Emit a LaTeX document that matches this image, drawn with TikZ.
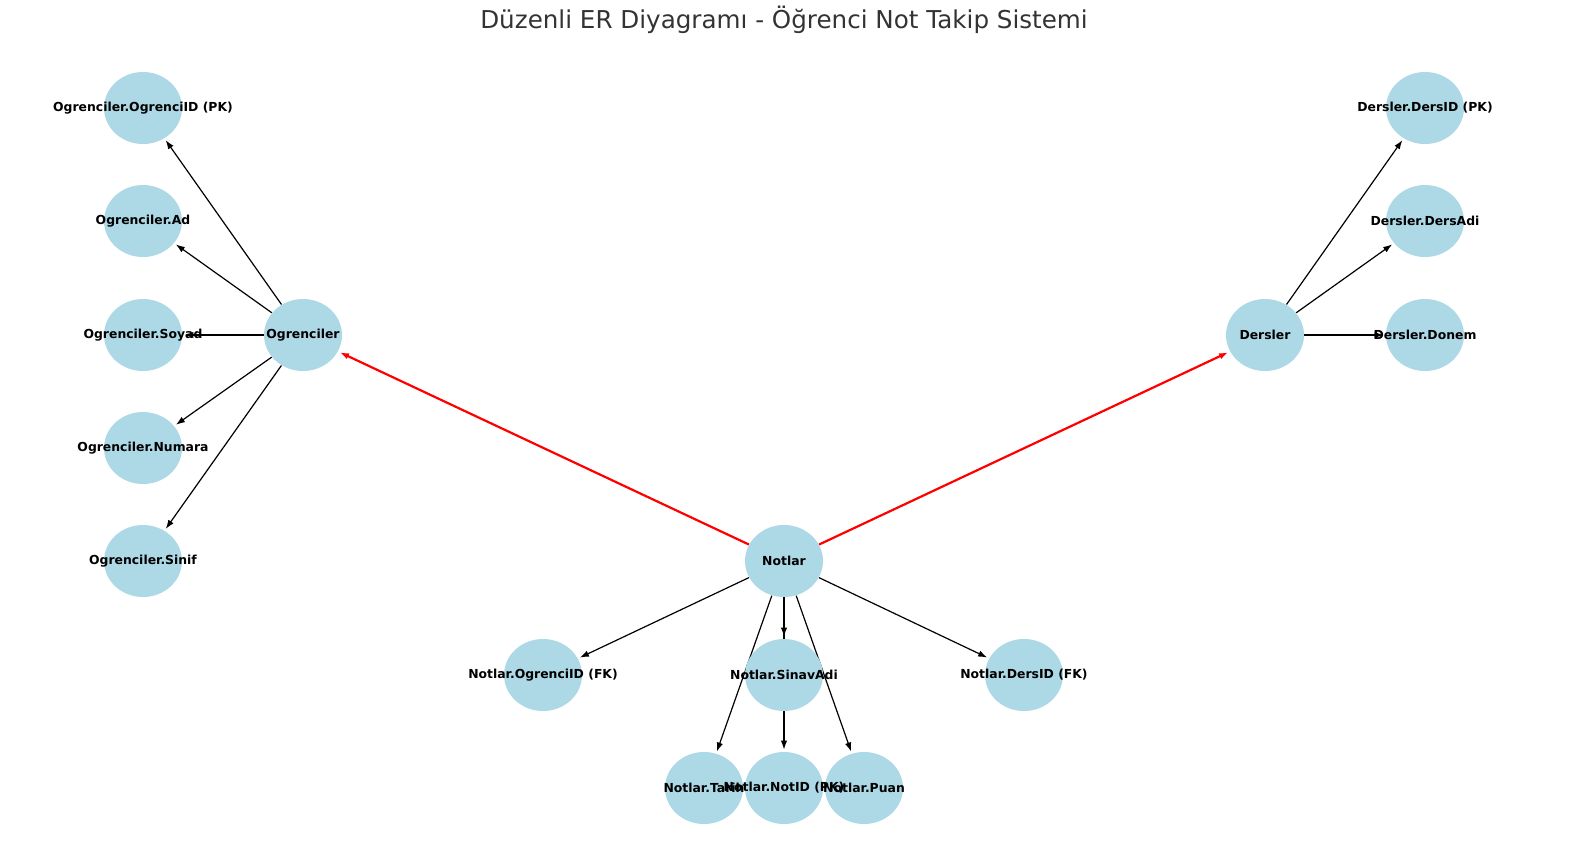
\documentclass[tikz,border=0pt]{standalone}
\usepackage{fontspec}
\setmainfont{DejaVu Sans}
\usetikzlibrary{shapes.geometric,arrows.meta}
\definecolor{nodeblue}{HTML}{ADD8E6}
\pgfdeclarelayer{edges}
\pgfdeclarelayer{labels}
\pgfsetlayers{edges,main,labels}

\begin{document}
\begin{tikzpicture}[x=0.5pt,y=-0.5pt,>={Latex[length=4.5pt,width=3.2pt]},
	ent/.style={ellipse,fill=nodeblue,minimum width=39pt,minimum height=36pt,inner sep=0pt},
	lbl/.style={font=\fontsize{6.2}{7}\selectfont\bfseries,inner sep=0pt},
	rel/.style={->,line width=0.6pt,shorten >=1pt},
	fk/.style={->,red,line width=1.1pt,shorten >=1pt}]
\useasboundingbox (0,0) rectangle (1574,848);
\node [font=\fontsize{12.3}{15}\selectfont,text=black!80] (title) at (784,20) {Düzenli ER Diyagramı - Öğrenci Not Takip Sistemi};

\foreach \n / \x / \y / \t in {
								ogr/303/335/Ogrenciler,
								ogrID/143/108/{Ogrenciler.OgrenciID (PK)},
								ogrAd/143/221/Ogrenciler.Ad,
								ogrSoyad/143/335/Ogrenciler.Soyad,
								ogrNumara/143/448/Ogrenciler.Numara,
								ogrSinif/143/561/Ogrenciler.Sinif,
								drs/1265/335/Dersler,
								drsID/1425/108/{Dersler.DersID (PK)},
								drsAdi/1425/221/Dersler.DersAdi,
								drsDonem/1425/335/Dersler.Donem,
								notlar/784/561/Notlar,
								ntOgrID/543/675/{Notlar.OgrenciID (FK)},
								ntSinav/784/675/Notlar.SinavAdi,
								ntDersID/1024/675/{Notlar.DersID (FK)},
								ntTarih/704/788/Notlar.Tarih,
								ntNotID/784/788/{Notlar.NotID (PK)},
								ntPuan/864/788/Notlar.Puan%
										}
	{%
		\node [ent] (\n) at (\x,\y) {};
		\begin{pgfonlayer}{labels}
			\node [lbl] (\n-t) at (\x,\y) {\t};
		\end{pgfonlayer}
	}

\begin{pgfonlayer}{edges}
\foreach \a / \b in {ogr/ogrID, ogr/ogrAd, ogr/ogrSoyad, ogr/ogrNumara, ogr/ogrSinif,
								drs/drsID, drs/drsAdi, drs/drsDonem,
								notlar/ntOgrID, notlar/ntSinav, notlar/ntDersID,
								notlar/ntTarih, notlar/ntNotID, notlar/ntPuan}
	\draw [rel] (\a) -- (\b);
\draw [fk] (notlar) -- (ogr);
\draw [fk] (notlar) -- (drs);
\end{pgfonlayer}

\end{tikzpicture}
\end{document}
